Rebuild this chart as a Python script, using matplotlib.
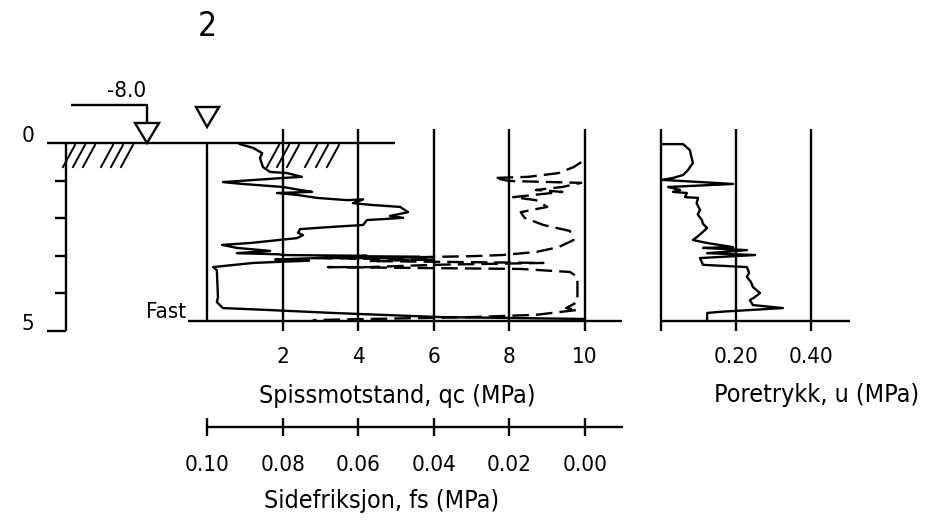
import matplotlib
matplotlib.use("Agg")
import matplotlib.pyplot as plt
from matplotlib.patches import Polygon
from matplotlib.transforms import blended_transform_factory as btf

# ---------------- data ----------------
qc_depth = [0.03, 0.13, 0.27, 0.40, 0.64, 0.77, 0.80, 0.90, 0.93, 1.04, 1.09, 1.17,
            1.25, 1.30, 1.33, 1.38, 1.46, 1.52, 1.50, 1.60, 1.65, 1.70, 1.84, 1.94,
            1.99, 2.05, 2.18, 2.23, 2.29, 2.39, 2.45, 2.53, 2.66, 2.71, 2.79, 2.87,
            2.93, 2.96, 2.98, 3.00, 3.01, 3.03, 3.04, 3.06, 3.10, 3.13, 3.16, 3.19,
            3.30, 3.38, 4.10, 4.23, 4.39, 4.44, 4.52, 4.63, 4.68]
qc_values = [0.87, 1.22, 1.46, 1.40, 1.48, 1.67, 2.12, 2.51, 2.01, 0.42, 0.95, 2.01,
             2.46, 2.78, 1.85, 2.38, 2.91, 3.70, 4.13, 3.86, 4.39, 5.11, 5.32, 4.84,
             5.19, 4.23, 4.13, 3.33, 2.46, 2.41, 2.54, 2.38, 1.14, 0.40, 0.79, 1.67,
             0.79, 1.90, 2.01, 4.23, 4.00, 5.63, 3.60, 2.91, 1.80, 2.70, 1.93, 1.22,
             0.16, 0.26, 0.29, 0.26, 0.42, 1.59, 3.33, 6.16, 10.0]

fs_depth = [0.51, 0.64, 0.80, 0.90, 0.93, 1.01, 1.06, 1.17, 1.25, 1.30, 1.44, 1.52,
            1.70, 1.84, 1.99, 2.18, 2.34, 2.58, 2.77, 2.90, 2.98, 3.01, 3.06, 3.06,
            3.10, 3.14, 3.19, 3.24, 3.30, 3.30, 3.35, 3.43, 3.56, 3.72, 4.23, 4.39,
            4.44, 4.57, 4.63, 4.68, 4.71]
fs_values = [0.001, 0.003, 0.007, 0.015, 0.024, 0.020, 0.001, 0.006, 0.013, 0.006,
             0.019, 0.013, 0.010, 0.017, 0.016, 0.011, 0.004, 0.003, 0.007, 0.013,
             0.022, 0.030, 0.057, 0.071, 0.040, 0.057, 0.011, 0.040, 0.057, 0.068,
             0.017, 0.004, 0.002, 0.002, 0.002, 0.005, 0.002, 0.013, 0.030, 0.057,
             0.072]

u_depth = [0.03, 0.03, 0.19, 0.53, 0.72, 0.85, 0.93, 0.98, 1.09, 1.17, 1.25, 1.30,
           1.33, 1.44, 1.46, 1.60, 1.78, 1.90, 2.05, 2.15, 2.26, 2.38, 2.50, 2.58,
           2.66, 2.77, 2.79, 2.85, 2.93, 2.98, 3.06, 3.24, 3.30, 3.45, 3.56, 3.70,
           3.83, 3.99, 4.10, 4.18, 4.31, 4.39, 4.49, 4.52, 4.71]
u_values = [0.003, 0.059, 0.077, 0.085, 0.072, 0.059, 0.032, 0.003, 0.192, 0.019,
            0.051, 0.032, 0.069, 0.064, 0.099, 0.095, 0.104, 0.098, 0.109, 0.112,
            0.123, 0.110, 0.096, 0.085, 0.123, 0.192, 0.112, 0.229, 0.123, 0.251,
            0.104, 0.112, 0.229, 0.235, 0.229, 0.240, 0.245, 0.264, 0.250, 0.237,
            0.245, 0.325, 0.157, 0.123, 0.123]

qc_ticks = [2, 4, 6, 8, 10]
qc_tick_labels = ["2", "4", "6", "8", "10"]
fs_ticks = [0.10, 0.08, 0.06, 0.04, 0.02, 0.00]
fs_tick_labels = ["0.10", "0.08", "0.06", "0.04", "0.02", "0.00"]
u_ticks = [0.20, 0.40]
u_tick_labels = ["0.20", "0.40"]
depth_ticks = [0, 1, 2, 3, 4, 5]
depth_labels = {0: "0", 5: "5"}
end_depth = 4.73

# ---------------- layout ----------------
W, H = 931, 522
X_QC0, PX_QC = 207, 37.8
Y_D0, PX_M = 143, 37.6
X_U0, PX_U = 661, 375.0
PX_FS = 3780.0

plt.rcParams["font.family"] = ["DejaVu Sans"]
plt.rcParams["font.stretch"] = "condensed"
TICK_FS = 16
LAB_FS = 18
fig = plt.figure(figsize=(W / 100, H / 100), dpi=100)

ax_c = fig.add_axes([0, 0, 1, 1])
ax_c.set_xlim(0, W)
ax_c.set_ylim(H, 0)
ax_c.axis("off")

ylim = ((H - Y_D0) / PX_M, -Y_D0 / PX_M)


def overlay(xlim):
    a = fig.add_axes([0, 0, 1, 1])
    a.set_xlim(*xlim)
    a.set_ylim(*ylim)
    a.axis("off")
    a.patch.set_visible(False)
    return a


ax_qc = overlay((-X_QC0 / PX_QC, (W - X_QC0) / PX_QC))
ax_fs = overlay((0.10 + X_QC0 / PX_FS, 0.10 - (W - X_QC0) / PX_FS))
ax_u = overlay((-X_U0 / PX_U, (W - X_U0) / PX_U))

LW = 1.7
k = dict(color="black", lw=LW, solid_capstyle="butt")

t_qc = btf(ax_qc.transData, ax_c.transData)
t_fs = btf(ax_fs.transData, ax_c.transData)
t_u = btf(ax_u.transData, ax_c.transData)
t_depth = btf(ax_c.transData, ax_qc.transData)

# ---- depth scale on the left ----
ax_c.plot([66, 66], [depth_ticks[0], depth_ticks[-1]], transform=t_depth, **k)
for d in depth_ticks[1:]:
    x0 = 47 if d == depth_ticks[-1] else 55
    ax_c.plot([x0, 66], [d, d], transform=t_depth, **k)
for d, lab in depth_labels.items():
    ax_c.text(28, d - 0.19, lab, transform=t_depth, ha="center", va="center", fontsize=TICK_FS)

# ground surface line and hatching
ax_c.plot([47, 395], [Y_D0, Y_D0], **k)
for xb in [63, 73, 83, 101, 111, 121, 267, 277, 287, 305, 316, 327]:
    ax_c.plot([xb, xb + 12], [167, 145], color="black", lw=1.4)

# water level symbols
ax_c.plot([71, 147, 147], [105, 105, 123], **k)
ax_c.add_patch(Polygon([[135, 123], [159, 123], [147, 143]], closed=True,
                       fill=False, ec="black", lw=LW))
ax_c.add_patch(Polygon([[196, 107], [219, 107], [207, 127]], closed=True,
                       fill=False, ec="black", lw=LW))
ax_c.text(127, 91, "-8.0", ha="center", va="center", fontsize=TICK_FS)
ax_c.text(207, 26, "2", ha="center", va="center", fontsize=24, fontweight="light")

# ---- qc / fs panel frame ----
ax_qc.plot([0, 0], [0, end_depth], **k)
ax_qc.vlines(qc_ticks, 129, 331, transform=t_qc, color="black", lw=LW)
ax_c.plot([188, 622], [Y_D0 + end_depth * PX_M] * 2, **k)
ax_c.text(186, 312, "Fast", ha="right", va="center", fontsize=TICK_FS)

for v, lab in zip(qc_ticks, qc_tick_labels):
    ax_qc.text(v, 357, lab, transform=t_qc, ha="center", va="center", fontsize=TICK_FS)
ax_c.text(397, 396, "Spissmotstand, qc (MPa)", ha="center", va="center", fontsize=LAB_FS)

# fs scale
ax_fs.plot([fs_ticks[0], -0.01], [427, 427], transform=t_fs, **k)
ax_fs.vlines(fs_ticks, 418, 436, transform=t_fs, color="black", lw=LW)
for v, lab in zip(fs_ticks, fs_tick_labels):
    ax_fs.text(v, 465, lab, transform=t_fs, ha="center", va="center", fontsize=TICK_FS)
ax_c.text(382, 501, "Sidefriksjon, fs (MPa)", ha="center", va="center", fontsize=LAB_FS)

# curves
ax_qc.plot(qc_values, qc_depth, color="black", lw=LW)
ax_fs.plot(fs_values, fs_depth, color="black", lw=LW, dashes=(7, 3))

# ---- pore pressure panel ----
ax_u.vlines([0] + u_ticks, 129, 331, transform=t_u, color="black", lw=LW)
ax_u.plot([0, 0.505], [end_depth, end_depth], **k)
for v, lab in zip(u_ticks, u_tick_labels):
    ax_u.text(v, 357, lab, transform=t_u, ha="center", va="center", fontsize=TICK_FS)
ax_c.text(817, 395, "Poretrykk, u (MPa)", ha="center", va="center", fontsize=LAB_FS)
ax_u.plot(u_values, u_depth, color="black", lw=LW)

fig.savefig("out.png", dpi=100)
